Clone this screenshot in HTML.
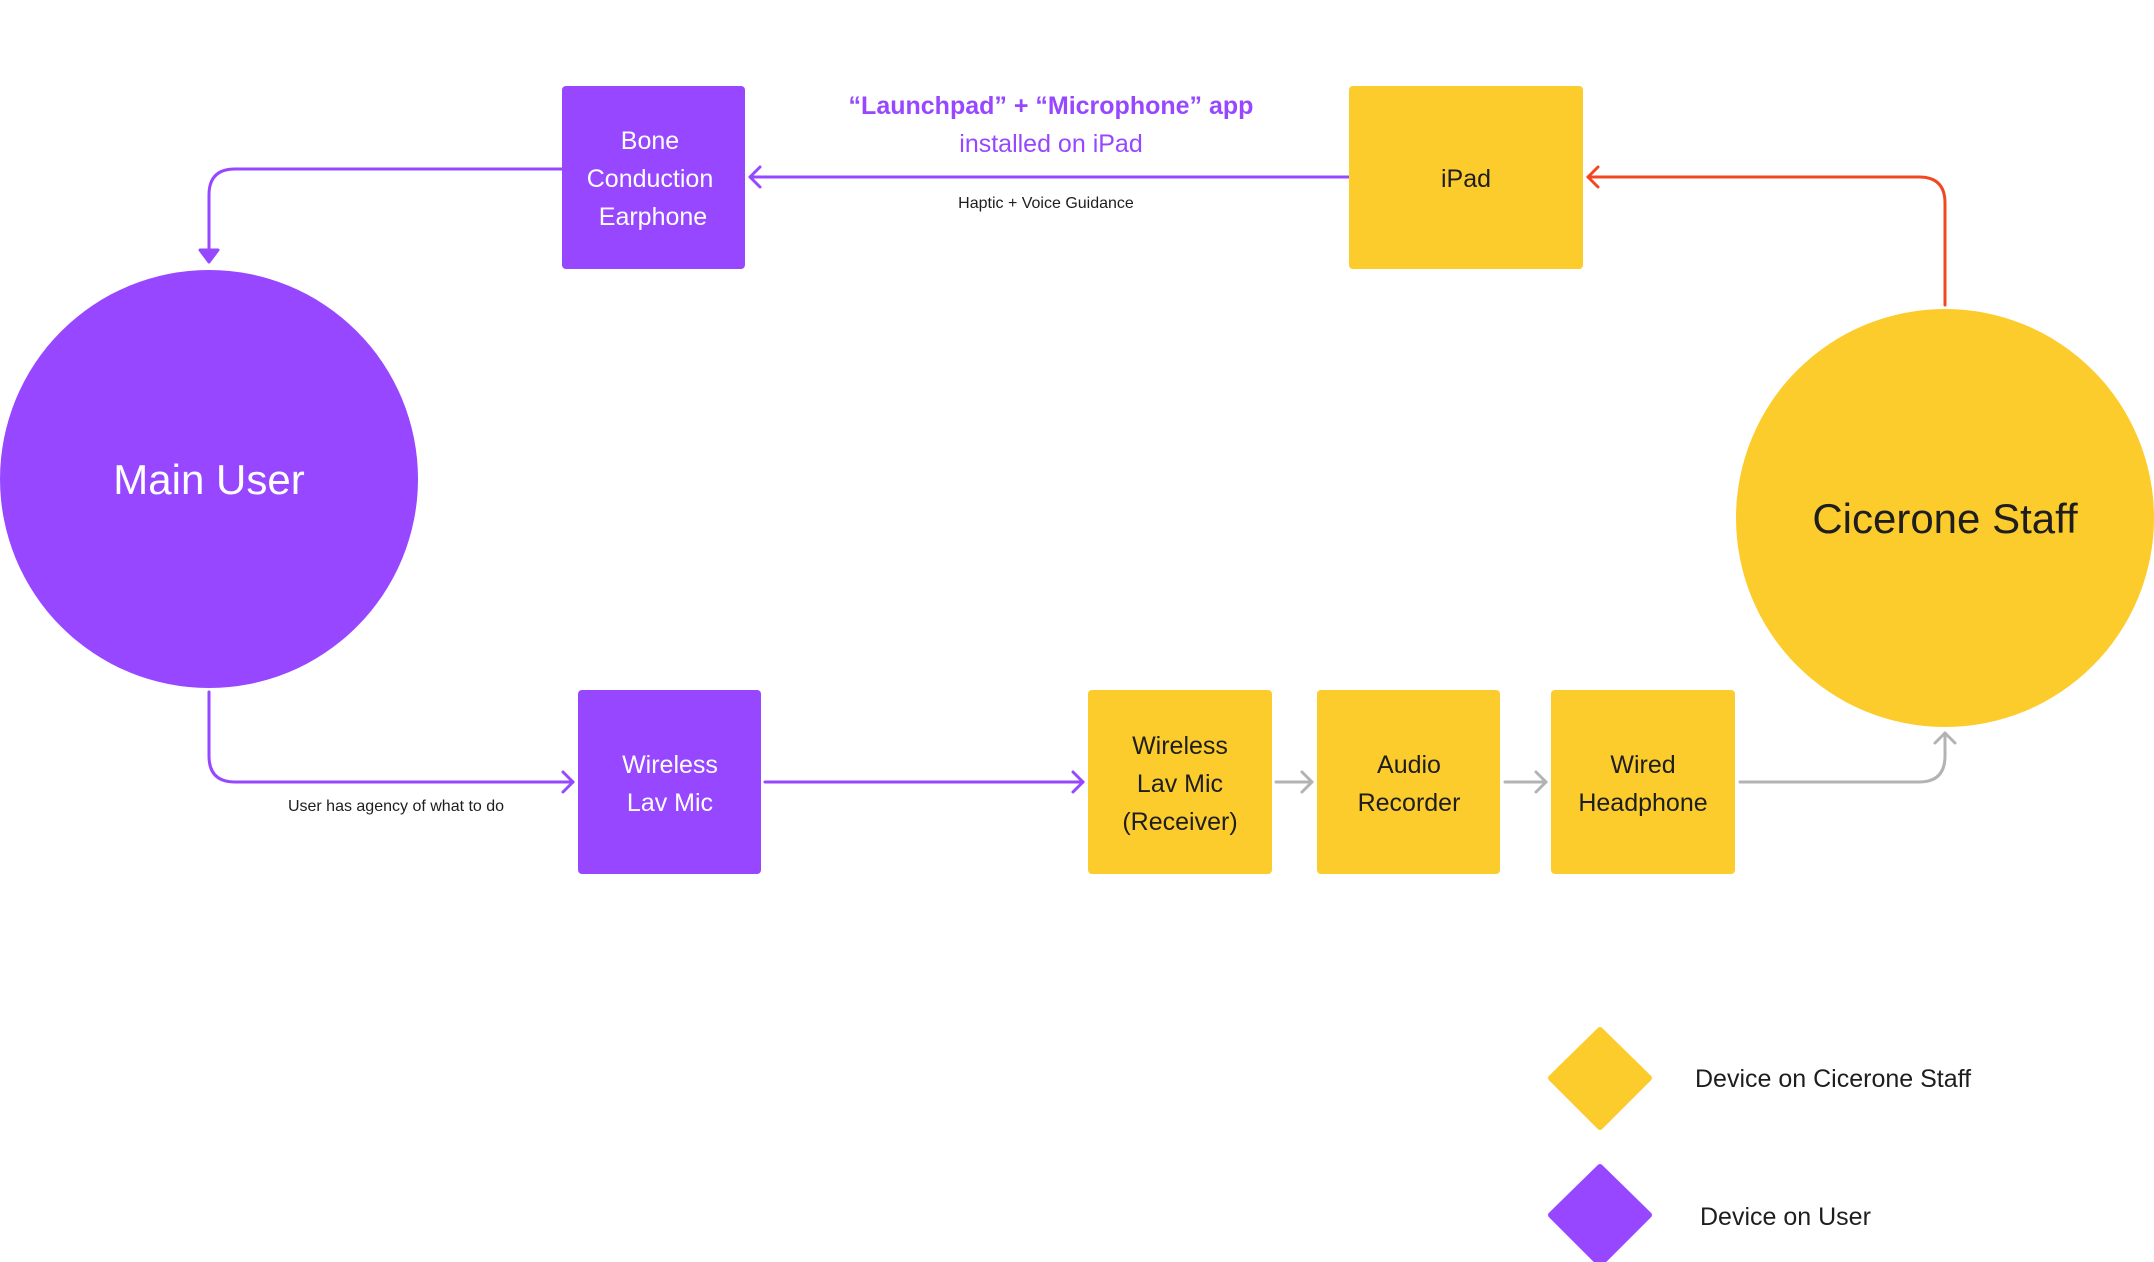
<!DOCTYPE html>
<html><head><meta charset="utf-8"><style>
body{margin:0;background:#fff;width:2154px;height:1262px;overflow:hidden;font-family:"Liberation Sans",sans-serif}
svg{position:absolute;left:0;top:0}
</style></head><body>
<svg width="2154" height="1262" viewBox="0 0 2154 1262" font-family="Liberation Sans, sans-serif">
<g fill="none" stroke-width="3" stroke-linecap="round" stroke-linejoin="round">
<path d="M562 169 H235 Q209 169 209 195 V258" stroke="#9747FF"/>
<path d="M200 250 L209 262 L218 250 Z" fill="#9747FF" stroke="#9747FF"/>
<path d="M1349 177 H750" stroke="#9747FF"/>
<path d="M760 167 L750 177 L760 187" stroke="#9747FF"/>
<path d="M1945 305 V203 Q1945 177 1919 177 H1588" stroke="#F24822"/>
<path d="M1598 167 L1588 177 L1598 187" stroke="#F24822"/>
<path d="M209 692 V756 Q209 782 235 782 H573" stroke="#9747FF"/>
<path d="M563 772 L573 782 L563 792" stroke="#9747FF"/>
<path d="M765 782 H1083" stroke="#9747FF"/>
<path d="M1073 772 L1083 782 L1073 792" stroke="#9747FF"/>
<path d="M1276 782 H1312" stroke="#B3B3B3"/>
<path d="M1302 772 L1312 782 L1302 792" stroke="#B3B3B3"/>
<path d="M1505 782 H1546" stroke="#B3B3B3"/>
<path d="M1536 772 L1546 782 L1536 792" stroke="#B3B3B3"/>
<path d="M1740 782 H1919 Q1945 782 1945 756 V733" stroke="#B3B3B3"/>
<path d="M1935 743 L1945 733 L1955 743" stroke="#B3B3B3"/>
</g>
<circle cx="209" cy="479" r="209" fill="#9747FF"/>
<circle cx="1945" cy="518" r="209" fill="#FCCC2C"/>
<rect x="562" y="86" width="183" height="183" rx="4" fill="#9747FF"/>
<rect x="1349" y="86" width="234" height="183" rx="4" fill="#FCCC2C"/>
<rect x="578" y="690" width="183" height="184" rx="4" fill="#9747FF"/>
<rect x="1088" y="690" width="184" height="184" rx="4" fill="#FCCC2C"/>
<rect x="1317" y="690" width="183" height="184" rx="4" fill="#FCCC2C"/>
<rect x="1551" y="690" width="184" height="184" rx="4" fill="#FCCC2C"/>
<path d="M1600 1030 L1649 1078 L1600 1127 L1551 1078 Z" fill="#FCCC2C" stroke="#FCCC2C" stroke-width="6" stroke-linejoin="round"/>
<path d="M1600 1167 L1649 1215 L1600 1264 L1551 1215 Z" fill="#9747FF" stroke="#9747FF" stroke-width="6" stroke-linejoin="round"/>
<g text-anchor="middle" font-size="25">
<g fill="#fff">
<text x="650" y="149">Bone</text><text x="650" y="187">Conduction</text><text x="653" y="225">Earphone</text>
<text x="670" y="773">Wireless</text><text x="670" y="811">Lav Mic</text>
<text x="209" y="494" font-size="42">Main User</text>
</g>
<g fill="#1E1E1E">
<text x="1466" y="187">iPad</text>
<text x="1180" y="754">Wireless</text><text x="1180" y="792">Lav Mic</text><text x="1180" y="830">(Receiver)</text>
<text x="1409" y="773">Audio</text><text x="1409" y="811">Recorder</text>
<text x="1643" y="773">Wired</text><text x="1643" y="811">Headphone</text>
<text x="1945" y="533" font-size="42">Cicerone Staff</text>
</g>
<text x="1051" y="114" fill="#9747FF" font-weight="bold">“Launchpad” + “Microphone” app</text>
<text x="1051" y="152" fill="#9747FF">installed on iPad</text>
<text x="1046" y="208" font-size="16" fill="#1E1E1E">Haptic + Voice Guidance</text>
<text x="396" y="811" font-size="16" fill="#1E1E1E">User has agency of what to do</text>
</g>
<text x="1695" y="1087" font-size="25" fill="#1E1E1E">Device on Cicerone Staff</text>
<text x="1700" y="1225" font-size="25" fill="#1E1E1E">Device on User</text>
</svg>
</body></html>
